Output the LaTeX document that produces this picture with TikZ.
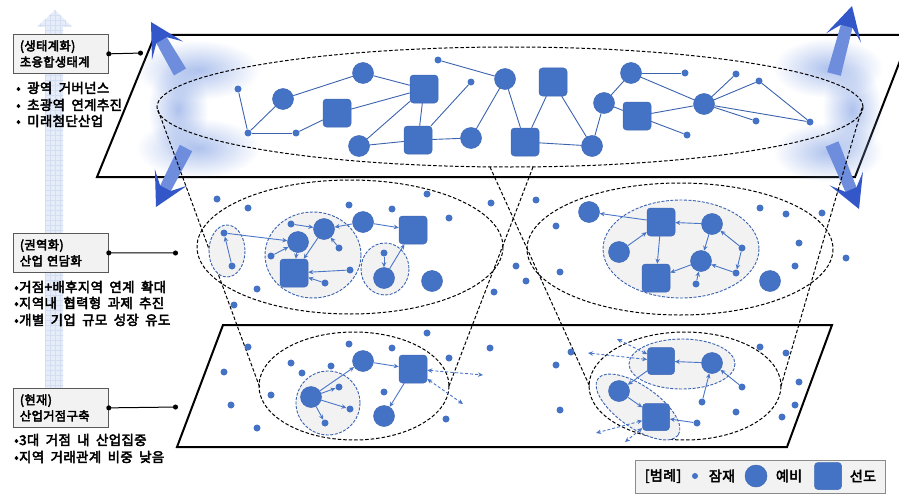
\documentclass[tikz,border=0pt]{standalone}
\usepackage{fontspec}
\setmainfont{Noto Sans CJK KR}[WordSpace=1.9, LetterSpace=3, BoldFont={Noto Sans CJK KR}, BoldFeatures={FakeBold=3.5}]
\usetikzlibrary{arrows.meta,fadings,calc}
\definecolor{nodeblue}{HTML}{4472C4}
\definecolor{nodeedge}{HTML}{3F69B5}
\definecolor{edgeblue}{HTML}{3B62AD}
\definecolor{arrblue}{HTML}{4A76C8}
\definecolor{inedge}{HTML}{3A62AE}
\definecolor{ingray}{HTML}{F2F2F2}
\definecolor{boxgray}{HTML}{F2F2F2}
\definecolor{boxedge}{HTML}{595959}
\definecolor{fadeblue}{HTML}{E6EDF9}
\definecolor{fadegrid}{HTML}{D3DEF3}
\definecolor{glowl}{HTML}{8CA8E6}
\definecolor{glowdark}{HTML}{3357C8}
\definecolor{glowmid}{HTML}{6E8EDD}
\tikzfading[name=softblob, inner color=transparent!30, outer color=transparent!100]
\newcommand\mkglow[2]{%
  \fill[glowmid]
   ($(#1)!7pt!90:(#2)$) -- ($(#2)!20pt!(#1)!6pt!-90:(#1)$) -- ($(#2)!20pt!(#1)!6pt!90:(#1)$) -- ($(#1)!7pt!-90:(#2)$) -- cycle;
  \fill[glowdark]
   ($(#2)!21pt!(#1)!6pt!-90:(#1)$) -- ($(#2)!33pt!(#1)!18pt!-90:(#1)$) -- (#2)
   -- ($(#2)!33pt!(#1)!18pt!90:(#1)$) -- ($(#2)!21pt!(#1)!6pt!90:(#1)$) -- cycle;}
\begin{document}
\begin{tikzpicture}[x=1pt,y=-1pt,
  pdot/.style={circle,fill=nodeblue,inner sep=0pt,minimum size=7pt},
  pcirc/.style={circle,fill=nodeblue,draw=nodeedge,line width=0.5pt,inner sep=0pt,minimum size=21pt},
  psq/.style={rectangle,rounded corners=3.5pt,fill=nodeblue,draw=nodeedge,line width=0.5pt,inner sep=0pt,minimum size=28pt},
  tedge/.style={draw=edgeblue,line width=0.9pt},
  marr/.style={draw=arrblue,line width=0.9pt,-{Stealth[length=5pt,width=4.5pt]}},
  darr/.style={draw=arrblue,line width=0.9pt,dash pattern=on 3pt off 2pt,{Stealth[length=5pt,width=4.5pt]}-{Stealth[length=5pt,width=4.5pt]}},
  bigell/.style={draw=black,line width=1pt,dash pattern=on 3.5pt off 2pt},
  inell/.style={draw=inedge,fill=ingray,line width=0.9pt,dash pattern=on 3pt off 1.5pt},
  plane/.style={draw=black,line width=2pt,line join=miter},
  conel/.style={draw=black,line width=1pt,dash pattern=on 3.5pt off 2pt},
  lbox/.style={draw=boxedge,fill=boxgray,line width=0.8pt,anchor=north west,align=left,text width=82pt,inner xsep=6.5pt,minimum height=39pt,font=\bfseries\fontsize{12.3}{16}\selectfont},
  btext/.style={anchor=west,inner sep=0pt,font=\bfseries\fontsize{13.4}{15}\selectfont},
  conn/.style={draw=black,line width=1pt,{Circle[length=5pt]}-{Circle[length=5pt]}},
  legtext/.style={inner sep=0pt,font=\bfseries\fontsize{14}{16}\selectfont}]
\useasboundingbox (0,0) rectangle (899,495);

% faint vertical arrow
\fill[fadeblue] (45,388) -- (45,27) -- (37,27) -- (55,10) -- (72,27) -- (63,27) -- (63,388) -- cycle;
\begin{scope}
\clip (45,388) -- (45,27) -- (37,27) -- (55,10) -- (72,27) -- (63,27) -- (63,388) -- cycle;
\draw[fadegrid,line width=0.4pt,step=5pt] (30,0) grid (80,390);
\end{scope}

% planes
\draw[plane] (155,35) -- (910,35) -- (855,177) -- (97,177) -- cycle;
\draw[plane] (223,325) -- (832,325) -- (787,447) -- (177,447) -- cycle;

% glow blobs
\fill[glowl, path fading=softblob] (198,70) ellipse [x radius=62, y radius=30];
\fill[glowl, path fading=softblob] (198,148) ellipse [x radius=62, y radius=30];
\fill[glowl, path fading=softblob] (178,109) ellipse [x radius=30, y radius=48];
\fill[glowl, path fading=softblob] (828,68) ellipse [x radius=55, y radius=30];
\fill[glowl, path fading=softblob] (828,152) ellipse [x radius=55, y radius=30];
\fill[glowl, path fading=softblob] (852,110) ellipse [x radius=30, y radius=48];
\coordinate (ga1) at (180,72); \coordinate (gb1) at (151,22);
\coordinate (ga2) at (186,148); \coordinate (gb2) at (156,207);
\coordinate (ga3) at (834,74); \coordinate (gb3) at (852,6);
\coordinate (ga4) at (832,144); \coordinate (gb4) at (859,209);
\mkglow{ga1}{gb1}
\mkglow{ga2}{gb2}
\mkglow{ga3}{gb3}
\mkglow{ga4}{gb4}

% big dashed ellipses
\draw[bigell] (510,107) ellipse [x radius=353, y radius=60];
\draw[bigell] (350,247) ellipse [x radius=153, y radius=67];
\draw[bigell] (680,249) ellipse [x radius=153, y radius=66];
\draw[bigell] (354,386) ellipse [x radius=95, y radius=54];
\draw[bigell] (685,386) ellipse [x radius=96, y radius=54];

% cone lines
\coordinate (cA1) at (158,110); \coordinate (cA2) at (260,388);
\coordinate (cB1) at (533,167); \coordinate (cB2) at (449,386);
\coordinate (cC1) at (490,167); \coordinate (cC2) at (590,387);
\coordinate (cD1) at (862,108); \coordinate (cD2) at (781,386);
\draw[conel] (cA1) -- (cA2);
\draw[conel] (cB1) -- (cB2);
\draw[conel] (cC1) -- (cC2);
\draw[conel] (cD1) -- (cD2);

% inner ellipses
\draw[inell] (227,251) ellipse [x radius=18, y radius=26];
\draw[inell] (313,255) ellipse [x radius=48, y radius=43];
\draw[inell] (385,269) ellipse [x radius=24, y radius=26];
\draw[inell] (681,249) ellipse [x radius=78, y radius=49];
\draw[inell] (328,403) ellipse [x radius=32, y radius=32];
\draw[inell] (682,364) ellipse [x radius=53, y radius=25];
\draw[inell, rotate around={-35:(638,407)}] (638,407) ellipse [x radius=49, y radius=21];

% ===== top layer =====
\node[pdot] (t1) at (238,89) {};
\node[pcirc] (t2) at (283,99) {};
\node[pdot] (t3) at (248,133) {};
\node[pdot] (t4) at (296,133) {};
\node[psq] (t5) at (337,113) {};
\node[pcirc] (t6) at (363,73) {};
\node[psq] (t7) at (424,89) {};
\node[pcirc] (t8) at (359,146) {};
\node[psq] (t9) at (418,140) {};
\node[pdot] (t10) at (471,82) {};
\node[pcirc] (t11) at (471,138) {};
\node[pdot] (t12) at (438,60) {};
\node[pcirc] (t13) at (505,79) {};
\node[psq] (t14) at (525,142) {};
\node[psq] (t15) at (553,82) {};
\node[pcirc] (t16) at (592,146) {};
\node[pcirc] (t17) at (604,103) {};
\node[pcirc] (t18) at (631,73) {};
\node[pdot] (t19) at (685,73) {};
\node[psq] (t20) at (637,116) {};
\node[pdot] (t21) at (687,135) {};
\node[pcirc] (t22) at (704,104) {};
\node[pdot] (t23) at (736,74) {};
\node[pdot] (t24) at (759,81) {};
\node[pdot] (t25) at (756,121) {};
\node[pdot] (t26) at (810,122) {};
\foreach \a/\b in {t1/t3,t3/t2,t3/t4,t4/t5,t2/t6,t6/t7,t5/t7,t8/t7,t7/t9,t8/t9,t9/t10,t9/t11,t11/t13,t12/t13,t13/t14,t14/t15,t15/t16,t14/t16,t16/t17,t17/t18,t17/t20,t18/t19,t18/t22,t20/t22,t20/t21,t22/t23,t22/t24,t22/t25,t22/t26,t24/t26}
  \draw[tedge] (\a) -- (\b);

% ===== middle layer =====
\foreach \x/\y [count=\i] in {217/199,248/208,349/205,392/209,427/194,449/218,491/203,516/266,526/281,494/292,257/289,234/305,536/200,556/226,560/272,760/208,786/214,822/213,799/243,795/266,846/258}
  \node[pdot] (md\i) at (\x,\y) {};
\node[pdot] (a1) at (224,233) {};
\node[pdot] (a2) at (232,266) {};
\node[pdot] (b1) at (291,224) {};
\node[pcirc] (b2) at (324,229) {};
\node[pcirc] (b3) at (298,242) {};
\node[pdot] (b4) at (271,256) {};
\node[psq] (b5) at (294,273) {};
\node[pdot] (b6) at (339,248) {};
\node[pdot] (b7) at (350,270) {};
\node[pdot] (b8) at (325,283) {};
\node[pcirc] (c1) at (363,222) {};
\node[psq] (c2) at (413,230) {};
\node[pdot] (e1) at (384,253) {};
\node[pcirc] (e2) at (384,278) {};
\node[pcirc] (c3) at (432,281) {};
\foreach \a/\b in {a2/a1,a1/b3,b1/b2,b4/b3,b3/b5,b2/b5,b6/b2,b7/b5,b8/b5,c1/b2,c1/c2,e1/e2,e2/c2}
  \draw[marr] (\a) -- (\b);

\node[pcirc] (f1) at (589,212) {};
\node[psq] (f2) at (661,222) {};
\node[pcirc] (f3) at (619,252) {};
\node[pcirc] (f4) at (712,224) {};
\node[psq] (f5) at (656,278) {};
\node[pcirc] (f6) at (701,261) {};
\node[pdot] (f7) at (742,248) {};
\node[pdot] (f8) at (736,273) {};
\node[pdot] (f9) at (696,284) {};
\node[pcirc] (f10) at (770,281) {};
\foreach \a/\b in {f2/f1,f3/f2,f4/f2,f2/f5,f4/f6,f7/f4,f7/f8,f8/f6,f6/f5,f9/f6}
  \draw[marr] (\a) -- (\b);

% ===== bottom layer =====
\foreach \x/\y [count=\i] in {248/347,224/372,231/405,257/428,271/395,291/363,302/373,331/366,349/344,392/348,427/333,449/358,490/348,384/392,446/419,571/352,556/365,560/410,760/347,786/353,799/382,795/405,782/417,736/412}
  \node[pdot] (bd\i) at (\x,\y) {};
\node[pcirc] (g1) at (311,397) {};
\node[pdot] (g2) at (339,387) {};
\node[pdot] (g3) at (350,409) {};
\node[pdot] (g4) at (325,423) {};
\node[pcirc] (h1) at (363,361) {};
\node[psq] (h2) at (413,369) {};
\node[pcirc] (h3) at (384,416) {};
\foreach \a/\b in {g1/g2,g1/g3,g1/g4,g1/h1,h1/h2,h2/h3}
  \draw[marr] (\a) -- (\b);
\coordinate (x1) at (483,375);
\coordinate (x2) at (463,404);
\draw[darr] (h2) -- (x1);
\draw[darr] (h2) -- (x2);

\node[psq,minimum size=27pt] (k1) at (661,361) {};
\node[pcirc] (k2) at (712,363) {};
\node[pcirc] (k3) at (619,391) {};
\node[psq,minimum size=27pt] (k4) at (656,417) {};
\node[pdot] (p1) at (742,387) {};
\node[pdot] (p2) at (702,402) {};
\node[pdot] (p3) at (697,423) {};
\foreach \a/\b in {k2/k1,k1/k3,k3/k4,p1/k2,p2/k2,p3/k4}
  \draw[marr] (\a) -- (\b);
\coordinate (y1) at (588,353);
\coordinate (y2) at (617,339);
\coordinate (y3) at (596,433);
\coordinate (y4) at (625,442);
\draw[darr] (k1) -- (y1);
\draw[darr] (k1) -- (y2);
\draw[darr] (k4) -- (y3);
\draw[darr] (k4) -- (y4);

% ===== left labels =====
\node[lbox] (lb1) at (13,34) {(생태계화)\\초융합생태계};
\node[lbox] (lb2) at (13,233) {(권역화)\\산업 연담화};
\node[lbox] (lb3) at (13,388) {(현재)\\산업거점구축};
\coordinate (cp1) at (143,53);
\coordinate (cp2) at (178,253);
\coordinate (cp3) at (178,407);
\draw[conn] ([xshift=-2.5pt]lb1.east) -- (cp1);
\draw[conn] ([xshift=-2.5pt]lb2.east) -- (cp2);
\draw[conn] ([xshift=-2.5pt]lb3.east) -- (cp3);

\node[btext] (bl1) at (16,88) {• 광역 거버넌스};
\node[btext] (bl2) at (16,105) {• 초광역 연계추진};
\node[btext] (bl3) at (16,121) {• 미래첨단산업};
\node[btext] (bl4) at (14,287) {•거점+배후지역 연계 확대};
\node[btext] (bl5) at (14,303) {•지역내 협력형 과제 추진};
\node[btext] (bl6) at (14,320) {•개별 기업 규모 성장 유도};
\node[btext] (bl7) at (14,440) {•3대 거점 내 산업집중};
\node[btext] (bl8) at (14,457) {•지역 거래관계 비중 낮음};

% ===== legend =====
\node[draw=boxedge!70,fill=boxgray,line width=0.8pt,anchor=north west,minimum width=250pt,minimum height=33pt,inner sep=0pt] (leg) at (635,460) {};
\node[legtext] (lg0) at (663,476) {[범례]};
\node[pdot,minimum size=6pt] (lgd) at (695,476) {};
\node[legtext] (lg1) at (722,476) {잠재};
\node[pcirc,minimum size=22pt] (lgc) at (756,476) {};
\node[legtext] (lg2) at (789,476) {예비};
\node[psq,minimum size=27pt] (lgs) at (828,476) {};
\node[legtext] (lg3) at (863,476) {선도};
\end{tikzpicture}
\end{document}
